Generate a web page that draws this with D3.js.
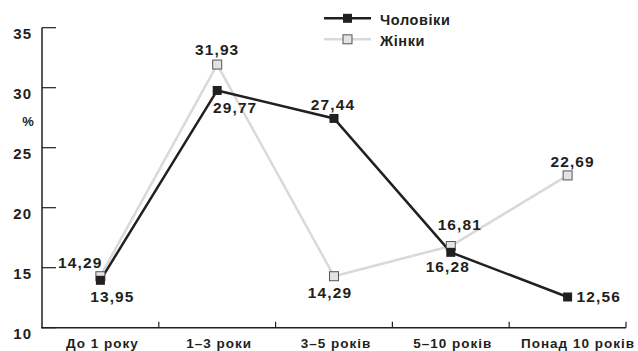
<!DOCTYPE html>
<html><head><meta charset="utf-8">
<script src="https://cdn.jsdelivr.net/npm/d3@7"></script>
<style>body{margin:0;background:#fff}text{font-family:"Liberation Sans",Arial,sans-serif;font-weight:bold;fill:#231f20}</style>
</head><body><svg id="c" width="638" height="351"></svg>
<script>
const categories = ["До 1 року","1–3 роки","3–5 років","5–10 років","Понад 10 років"];
const men = [13.95, 29.77, 27.44, 16.28, 12.56];
const women = [14.29, 31.93, 14.29, 16.81, 22.69];
const yTicks = [10,15,20,25,30,35];
const seriesNames = ["Чоловіки","Жінки"];
// label offsets [dx, dy(baseline), anchor] relative to point
const menLabelPos = [[12,22,"middle"],[18,22.5,"middle"],[-1,-8.5,"middle"],[-3,20,"middle"],[9,5.5,"start"]];
const womenLabelPos = [[2,-8,"end"],[0,-9.5,"middle"],[-4,22,"middle"],[9,-16,"middle"],[5,-8.5,"middle"]];

const svg = d3.select("#c");
const x = d3.scaleBand().domain(categories).range([42,626]);
const y = d3.scaleLinear().domain([10,35]).range([327.7,27.7]);
const cx = d => x(d) + x.bandwidth()/2;
const dark = "#231f20", light = "#d9d9d9";

// axes
svg.append("line").attr("x1",42).attr("x2",42).attr("y1",y(35)).attr("y2",y(10)).attr("stroke",dark).attr("stroke-width",1.5);
svg.append("line").attr("x1",41).attr("x2",626).attr("y1",y(10)).attr("y2",y(10)).attr("stroke",dark).attr("stroke-width",1.5);
yTicks.forEach(t=>{
  svg.append("line").attr("x1",42).attr("x2",56).attr("y1",y(t)).attr("y2",y(t)).attr("stroke",dark).attr("stroke-width",1.2);
  svg.append("text").attr("x",32).attr("y",y(t)+11).attr("text-anchor","end").attr("font-size",15).attr("letter-spacing",1).text(t);
});
svg.append("text").attr("x",28).attr("y",126).attr("text-anchor","middle").attr("font-size",13).text("%");
categories.forEach(c=>{
  const b = x(c)+x.bandwidth();
  svg.append("line").attr("x1",b).attr("x2",b).attr("y1",y(10)-6).attr("y2",y(10)).attr("stroke",dark).attr("stroke-width",1.2);
});
categories.forEach((c,i)=>{
  const last = i===categories.length-1;
  svg.append("text").attr("x",last ? 635 : cx(c)+2).attr("y",348)
    .attr("text-anchor",last?"end":"middle").attr("font-size",13.5).attr("letter-spacing",1).text(c);
});

const line = d3.line().x((d,i)=>cx(categories[i])).y(d=>y(d));
svg.append("path").attr("d",line(women)).attr("fill","none").attr("stroke",light).attr("stroke-width",2.5);
svg.append("path").attr("d",line(men)).attr("fill","none").attr("stroke",dark).attr("stroke-width",2.5);
const ms = 9;
women.forEach((v,i)=>{
  svg.append("rect").attr("x",cx(categories[i])-ms/2).attr("y",y(v)-ms/2).attr("width",ms).attr("height",ms)
    .attr("fill","#e3e3e3").attr("stroke","#555").attr("stroke-width",1);
});
men.forEach((v,i)=>{
  svg.append("rect").attr("x",cx(categories[i])-ms/2).attr("y",y(v)-ms/2).attr("width",ms).attr("height",ms).attr("fill",dark);
});
const fmt = v => v.toFixed(2).replace(".",",");
function label(v,i,p){
  svg.append("text").attr("x",cx(categories[i])+p[0]).attr("y",y(v)+p[1]).attr("text-anchor",p[2])
    .attr("font-size",15.5).attr("letter-spacing",1.1).text(fmt(v));
}
men.forEach((v,i)=>label(v,i,menLabelPos[i]));
women.forEach((v,i)=>label(v,i,womenLabelPos[i]));

// legend
const lg = [[dark,"#231f20",null],[light,"#e3e3e3","#555"]];
seriesNames.forEach((n,i)=>{
  const ly = 18.3 + i*21;
  svg.append("line").attr("x1",324).attr("x2",371).attr("y1",ly).attr("y2",ly).attr("stroke",lg[i][0]).attr("stroke-width",2.5);
  const r = svg.append("rect").attr("x",347.5-ms/2).attr("y",ly-ms/2).attr("width",ms).attr("height",ms).attr("fill",lg[i][1]);
  if(lg[i][2]) r.attr("stroke",lg[i][2]).attr("stroke-width",1);
  svg.append("text").attr("x",380).attr("y",ly+6.5).attr("font-size",14.5).attr("letter-spacing",0.6).text(n);
});
</script></body></html>
